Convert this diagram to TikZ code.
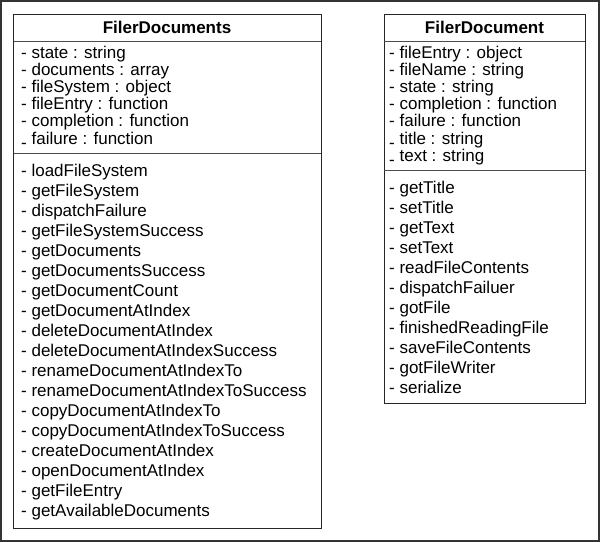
\documentclass[tikz,border=0pt]{standalone}
\usepackage{fontspec}
\setmainfont{Liberation Sans}
\newcommand{\lowdash}{\raisebox{-4.5pt}{-}}
\begin{document}
\begin{tikzpicture}[x=1pt,y=-1pt,
  txt/.style={anchor=base west, inner sep=0pt, font=\fontsize{17}{17}\selectfont},
  ttl/.style={anchor=base, inner sep=0pt, font=\fontsize{17}{17}\selectfont\bfseries},
  box/.style={draw=black!85, line width=1pt},
  sep/.style={draw=black!70, line width=1pt},
  frame/.style={draw=black!80, line width=2pt}]
\useasboundingbox (0,0) rectangle (600,542);
\draw[frame] (1,1) rectangle (599,541);
% left class
\draw[box] (13.5,14) rectangle (321,528);
\draw[sep] (13.5,41) -- (321,41);
\draw[sep] (13.5,153) -- (321,153);
\node[ttl] (lt) at (167,33) {FilerDocuments};
\foreach \t [count=\i] in {- state : string, - documents : array, - fileSystem : object, - fileEntry : function, - completion : function, \lowdash{} failure : function}
  \node[txt] (la\i) at (21,{58.5+17.1*(\i-1)}) {\t};
\foreach \t [count=\i] in {loadFileSystem, getFileSystem, dispatchFailure, getFileSystemSuccess, getDocuments, getDocumentsSuccess, getDocumentCount, getDocumentAtIndex, deleteDocumentAtIndex, deleteDocumentAtIndexSuccess, renameDocumentAtIndexTo, renameDocumentAtIndexToSuccess, copyDocumentAtIndexTo, copyDocumentAtIndexToSuccess, createDocumentAtIndex, openDocumentAtIndex, getFileEntry, getAvailableDocuments}
  \node[txt] (lm\i) at (21,{176+20*(\i-1)}) {- \t};
% right class
\draw[box] (384,14) rectangle (585,403);
\draw[sep] (384,41) -- (585,41);
\draw[sep] (384,170) -- (585,170);
\node[ttl] (rt) at (484.5,33) {FilerDocument};
\foreach \t [count=\i] in {- fileEntry : object, - fileName : string, - state : string, - completion : function, - failure : function, \lowdash{} title : string, \lowdash{} text : string}
  \node[txt] (ra\i) at (389,{58.5+17.1*(\i-1)}) {\t};
\foreach \t [count=\i] in {getTitle, setTitle, getText, setText, readFileContents, dispatchFailuer, gotFile, finishedReadingFile, saveFileContents, gotFileWriter, serialize}
  \node[txt] (rm\i) at (389,{193+20*(\i-1)}) {- \t};
\end{tikzpicture}
\end{document}
